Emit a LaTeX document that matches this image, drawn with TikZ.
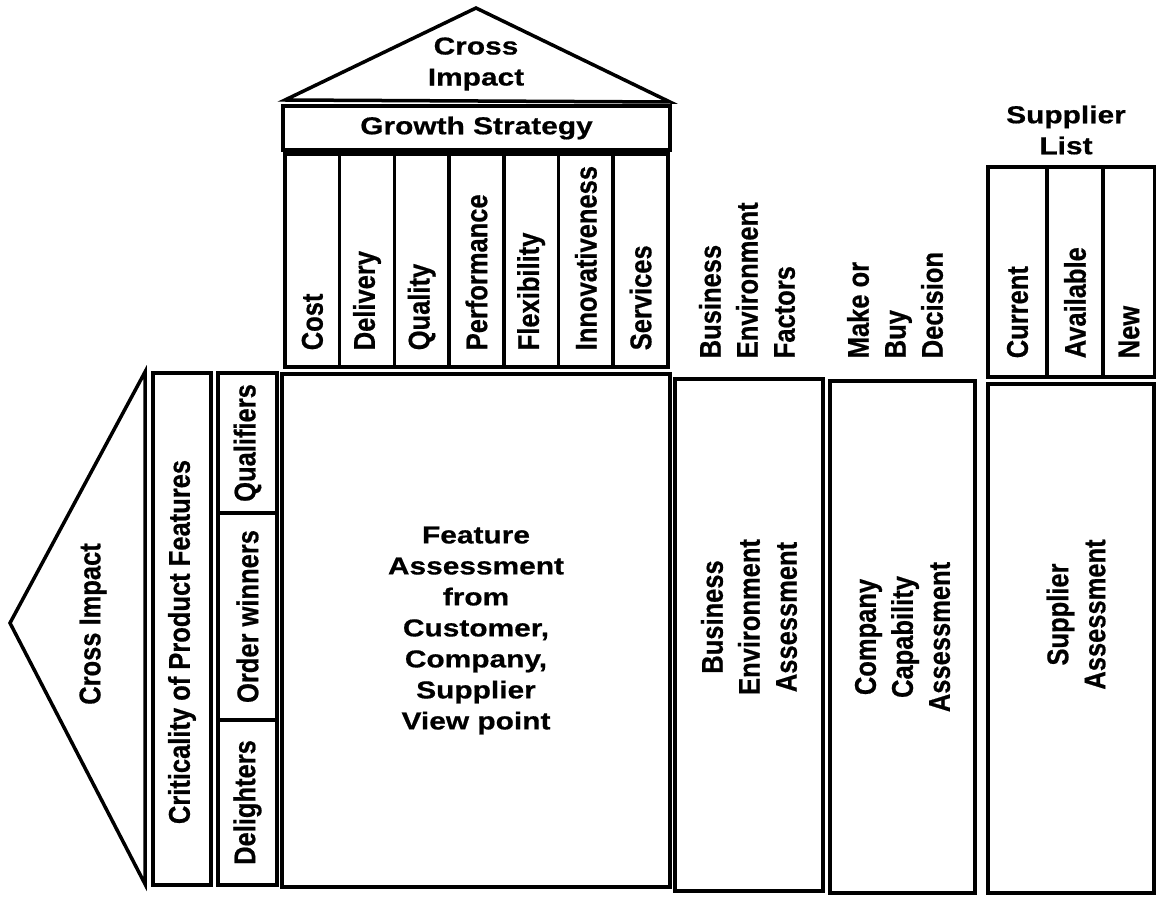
\documentclass[tikz,border=0pt]{standalone}
\usepackage{fontspec}
\setmainfont{Liberation Sans}
\newfontfamily\narrowsf[FakeStretch=0.85,FakeBold=0.6]{Liberation Sans}
\newfontfamily\widesf[FakeStretch=1.22,FakeBold=0.6]{Liberation Sans}
\usetikzlibrary{positioning}
\tikzset{
  box/.style={draw, line width=3.5pt, rectangle, inner sep=0pt, outer sep=0pt},
  col/.style={box, minimum width=54.7pt, minimum height=213pt},
  vtext/.style={rotate=90, inner sep=0pt, font=\narrowsf\bfseries\fontsize{30}{37}\selectfont},
  htext/.style={inner sep=0pt, font=\widesf\bfseries\fontsize{24.5}{31}\selectfont},
}

\begin{document}
\begin{tikzpicture}[x=1pt,y=-1pt,line width=3.5pt]
\useasboundingbox (0,0) rectangle (1156,901);

% roof
\coordinate(rl) at (285,100);
\coordinate(rt) at (476,8);
\coordinate(rr) at (670,102);
\draw (rl)--(rt)--(rr)--cycle;
\node(ci)[htext, align=center] at (476,64) {Cross\\Impact};
\node(gs)[box, htext, minimum width=387pt, minimum height=44pt, anchor=north west] at (283,106) {Growth Strategy};

% strategy columns
\node(c1)[col, anchor=north west] at (285,154) {};
\node(c2)[col, right=0pt of c1] {};
\node(c3)[col, right=0pt of c2] {};
\node(c4)[col, right=0pt of c3] {};
\node(c5)[col, right=0pt of c4] {};
\node(c6)[col, right=0pt of c5] {};
\node(c7)[col, right=0pt of c6] {};

\node(cost)[vtext, anchor=west] at ([yshift=15pt]c1.south) {Cost};
\node(del)[vtext, anchor=west] at ([yshift=15pt]c2.south) {Delivery};
\node(qua)[vtext, anchor=west] at ([yshift=15pt]c3.south) {Quality};
\node(per)[vtext, anchor=west] at ([yshift=15pt]c4.south) {Performance};
\node(fle)[vtext, anchor=west] at ([yshift=15pt]c5.south) {Flexibility};
\node(inn)[vtext, anchor=west] at ([yshift=15pt]c6.south) {Innovativeness};
\node(ser)[vtext, anchor=west] at ([yshift=15pt]c7.south) {Services};

% feature matrix
\node(fa)[box, htext, align=center, minimum width=388pt, minimum height=513pt, anchor=north west] at (282,374) {Feature\\Assessment\\from\\Customer,\\Company,\\Supplier\\View point};

% left wing
\coordinate(lt) at (10,623);
\coordinate(lu) at (145,372);
\coordinate(ld) at (145,884);
\draw (lt)--(lu)--(ld)--cycle;
\node(lci)[vtext] at (93,624) {Cross Impact};
\node(crit)[box, minimum width=58pt, minimum height=512pt] at (182,629) {};
\node(critt)[vtext] at ([yshift=-13pt]crit.center) {Criticality of Product Features};
\node(qual)[box, vtext, minimum width=140pt, minimum height=59pt] at (247.5,443) {Qualifiers};
\node(ow)[box, vtext, minimum width=207pt, minimum height=59pt] at (247.5,616.5) {Order winners};
\node(dl)[box, vtext, minimum width=165pt, minimum height=59pt] at (247.5,802.5) {Delighters};

% business environment and make or buy
\node(bef)[vtext, align=left, anchor=west] at (747,360) {Business\\Environment\\Factors};
\node(mbd)[vtext, align=left, anchor=west] at (895,360) {Make or\\Buy\\Decision};
\node(bea)[box, minimum width=148pt, minimum height=512pt] at (749,635) {};
\node(beat)[vtext, align=center] at ([yshift=18pt]bea.center) {Business\\Environment\\Assessment};
\node(cca)[box, vtext, align=center, minimum width=512pt, minimum height=145pt] at (902.5,637) {Company\\Capability\\Assessment};

% suppliers
\node(sl)[htext, align=center] at (1066,130) {Supplier\\List};
\node(s1)[box, minimum width=59pt, minimum height=210pt, anchor=north west] at (988,167) {};
\node(s2)[box, minimum width=56pt, minimum height=210pt, right=0pt of s1] {};
\node(s3)[box, minimum width=52pt, minimum height=210pt, right=0pt of s2] {};
\node(cur)[vtext, anchor=west] at ([yshift=17pt]s1.south) {Current};
\node(ava)[vtext, anchor=west] at ([yshift=17pt]s2.south) {Available};
\node(new)[vtext, anchor=west] at ([yshift=17pt]s3.south) {New};
\node(sa)[box, minimum width=166pt, minimum height=509pt] at (1071,638.5) {};
\node(sat)[vtext, align=center] at ([xshift=5pt,yshift=24pt]sa.center) {Supplier\\Assessment};
\end{tikzpicture}
\end{document}
